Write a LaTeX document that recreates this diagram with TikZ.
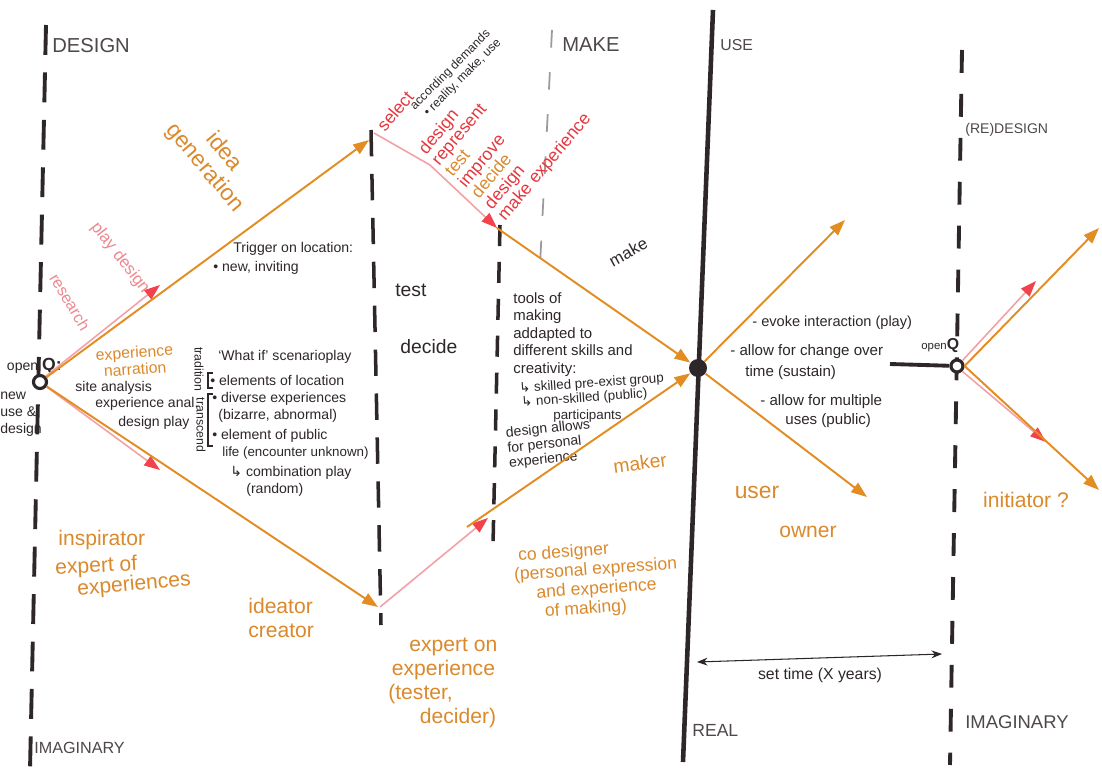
\documentclass[tikz,border=0pt]{standalone}
\usepackage{fontspec}
\setmainfont{Liberation Sans}
\newfontfamily\symfont{DejaVu Sans}
\usetikzlibrary{arrows.meta,positioning,calc}
\definecolor{inkc}{HTML}{2E2729}
\definecolor{headc}{HTML}{4E484A}
\definecolor{orng}{HTML}{E38C22}
\definecolor{orngt}{HTML}{DA8A2C}
\definecolor{pnk}{HTML}{F3A0A6}
\definecolor{pnkt}{HTML}{EE8890}
\definecolor{redh}{HTML}{F2434D}
\definecolor{redt}{HTML}{E6373F}

\begin{document}
\begin{tikzpicture}[
  x=0.02cm, y=-0.02cm,
  font=\fontsize{8}{9.6}\selectfont,
  ink/.style={text=inkc, align=left, inner sep=0pt, anchor=west},
  hd/.style={text=headc, inner sep=0pt, anchor=west},
  role/.style={text=orngt, font=\fontsize{12}{13.5}\selectfont, inner sep=0pt, align=left},
  redw/.style={text=redt, font=\fontsize{10}{9.8}\selectfont, inner sep=0pt, align=left},
  fan/.style={draw=orng, line width=1.1pt, -{Triangle[length=9pt,width=6.5pt]}},
  pfan/.style={draw=pnk, line width=0.9pt, -{Triangle[length=9pt,width=6.5pt,color=redh]}},
  bnd/.style={draw=inkc, line width=2.2pt, dash pattern=on 15pt off 10pt},
  openq/.style={circle, draw=inkc, fill=white, line width=1.8pt, minimum size=0.26cm, inner sep=0pt},
  hub/.style={circle, fill=inkc, minimum size=0.36cm, inner sep=0pt},
]
\newcommand{\hk}{{\symfont ↳}}
\useasboundingbox (0,0) rectangle (1102,770);
\fill[white] (0,0) rectangle (1102,770);

% ------------------------------------------------------------------ phase borders
\draw[bnd, dash pattern=on 17pt off 10pt] (46,25) -- (30,770);
\draw[bnd, line width=2pt] (371,130) -- (381,625);
\draw[bnd, line width=2pt, dash pattern=on 12pt off 9pt] (500,225) -- (493,545);
\draw[draw=headc!55, line width=1pt, dash pattern=on 10pt off 14pt] (552,30) -- (540,265);
\draw[draw=inkc, line width=2.6pt] (713,10) -- (683,762);
\draw[bnd, dash pattern=on 13pt off 12pt] (962,50) -- (950,765);

\node[hd, font=\fontsize{11.5}{12}\selectfont] (hdes) at (52,46) {DESIGN};
\node[hd, font=\fontsize{11.5}{12}\selectfont] (hmake) at (562,45) {MAKE};
\node[hd, font=\fontsize{9}{10}\selectfont] (huse) at (720,45) {USE};
\node[hd, font=\fontsize{8}{9}\selectfont] (hredes) at (965,130) {(RE)DESIGN};
\node[hd, font=\fontsize{9.2}{10}\selectfont] (himg) at (34,748) {IMAGINARY};
\node[hd, font=\fontsize{10}{11}\selectfont] (hreal) at (692,730) {REAL};
\node[hd, font=\fontsize{10.5}{11}\selectfont] (himg2) at (965,722) {IMAGINARY};

% ------------------------------------------------------------------ design: open question
\node[openq] (q1) at (40,382) {};
\node[ink, anchor=base east] (q1lab) at (62,370) {open \textbf{\fontsize{10}{10}\selectfont Q:}};
\node[ink, anchor=north west] (newuse) at (0,392) {new\\use \&\\design};

\coordinate (igtop) at (369,140);
\coordinate (pdtip) at (160,285);
\coordinate (igbot) at (378,607);
\coordinate (dptip) at (160,470);
\draw[pfan] (q1.north east) -- (pdtip);
\draw[fan] (q1) -- (igtop);
\draw[pfan] (q1) -- (dptip);
\draw[fan] (q1) -- (igbot);

\node[role, font=\fontsize{13}{14}\selectfont, align=center, rotate=-50] (idea) at (214,160) {idea\\generation};
\node[text=pnkt, font=\fontsize{9.5}{10}\selectfont, rotate=-52] (play) at (120,258) {play design};
\node[text=pnkt, font=\fontsize{9.2}{10}\selectfont, rotate=-59] (research) at (70,302) {research};
\node[role, font=\fontsize{9}{9.5}\selectfont, anchor=north west, rotate=4] (narr) at (95,349) {experience\\\hspace{4pt}narration};

\node[ink] (site) at (75,388) {site analysis};
\node[ink] (enal) at (95,404) {experience anal.};
\node[ink] (dplay) at (118,423) {design play};

\node[ink, font=\fontsize{7}{7}\selectfont, rotate=-90, anchor=center] (trad) at (199,369) {tradition};
\node[ink, font=\fontsize{7}{7}\selectfont, rotate=-90, anchor=center] (trans) at (201,425) {transcend};
\draw[inkc, line width=0.6pt] (213,373) -- (208,373) -- (208,388) -- (213,388);
\draw[inkc, line width=0.6pt] (213,394) -- (208,394) -- (208,446) -- (213,446);

\node[ink] (trig) at (233,249) {Trigger on location:};
\node[ink] (newinv) at (213,268) {• new, inviting};
\node[ink] (whatif) at (218,357) {`What if' scenarioplay};
\node[ink] (elloc) at (210,380) {• elements of location};
\node[ink] (divexp) at (212,399) {• diverse experiences};
\node[ink] (bizarre) at (218,416) {(bizarre, abnormal)};
\node[ink] (elpub) at (212,436) {• element of public};
\node[ink, font=\fontsize{7.6}{9}\selectfont] (life) at (222,453) {life (encounter unknown)};
\node[ink] (comb) at (230,473) {\hk\ combination play};
\node[ink] (rand) at (246,490) {(random)};

\node[role, anchor=west] (insp) at (58,540) {inspirator};
\node[role, anchor=west, rotate=3] (expof) at (55,569) {expert of};
\node[role, anchor=west, rotate=5] (expcs) at (77,590) {experiences};
\node[role, anchor=north west] (ideat) at (248,598) {ideator\\creator};

% ------------------------------------------------------------------ test and decide
\node[ink, font=\fontsize{11}{12}\selectfont] (test) at (395,290) {test};
\node[ink, font=\fontsize{11}{12}\selectfont] (decide) at (400,347) {decide};

\coordinate (seltop) at (374,133);
\coordinate (selkink) at (430,165);
\coordinate (mktop) at (497,228);
\coordinate (selbot) at (380,607);
\coordinate (mkbot) at (488,518);
\draw[pfan] (seltop) -- (selkink) -- (mktop);
\draw[pfan] (selbot) -- (mkbot);

\node[redw, rotate=50, anchor=base west] (select) at (385,133) {select};
\node[ink, font=\fontsize{7}{8}\selectfont, rotate=45, anchor=north west] (accord) at (408,104) {according demands\\\hspace{3pt}• reality, make, use};
\node[redw, rotate=50, anchor=north west] (steps) at (416,147)
  {design\\represent\\\textcolor{orngt}{test}\\improve\\\textcolor{orngt}{decide}\\design\\make experience};

\node[role, anchor=north west, align=left] (expon) at (388,638)
  {\hspace{12pt}expert on\\\hspace{2pt}experience\\(tester,\\\hspace{18pt}decider)};

% ------------------------------------------------------------------ make
\node[ink, font=\fontsize{9.5}{10}\selectfont, rotate=29] (make) at (610,262) {make};
\node[ink, font=\fontsize{8.5}{10}\selectfont, anchor=north west] (tools) at (513,292)
  {tools of\\making\\addapted to\\different skills and\\creativity:};
\node[ink, font=\fontsize{7.6}{9}\selectfont, rotate=4] (skilled) at (519,389) {\hk\ skilled pre-exist group};
\node[ink, font=\fontsize{7.6}{9}\selectfont, rotate=4] (nonsk) at (521,403) {\hk\ non-skilled (public)};
\node[ink, font=\fontsize{7.6}{9}\selectfont] (part) at (553,416) {participants};
\node[ink, font=\fontsize{8}{8.6}\selectfont, anchor=north west, rotate=6] (allows) at (505,427)
  {design allows\\for personal\\experience};

\node[hub] (use) at (698,368) {};
\coordinate (mkbots) at (467,527);
\draw[fan] (mktop) -- (use);
\draw[fan] (mkbots) -- (use);

\node[role, font=\fontsize{11}{12}\selectfont, rotate=8] (maker) at (640,463) {maker};
\node[role, font=\fontsize{10}{11}\selectfont, anchor=north west, rotate=4] (codes) at (512,548)
  {\hspace{3pt}co designer\\(personal expression\\\hspace{12pt}and experience\\\hspace{16pt}of making)};

% ------------------------------------------------------------------ use
\coordinate (up1) at (845,220);
\coordinate (dn1) at (867,497);
\draw[fan] (use) -- (up1);
\draw[fan] (use) -- (dn1);

\node[ink, font=\fontsize{8.3}{9}\selectfont] (evoke) at (752,323) {- evoke interaction (play)};
\node[ink, font=\fontsize{8.6}{9}\selectfont] (change) at (730,352) {- allow for change over};
\node[ink, font=\fontsize{8.6}{9}\selectfont] (sustain) at (745,373) {time (sustain)};
\node[ink, font=\fontsize{8.6}{9}\selectfont] (multi) at (760,402) {- allow for multiple};
\node[ink, font=\fontsize{8.6}{9}\selectfont] (uses) at (785,421) {uses (public)};

\node[role, font=\fontsize{13}{14}\selectfont] (user) at (757,492) {user};
\node[role] (owner) at (808,532) {owner};

\coordinate (yr1) at (697,662);
\coordinate (yr2) at (942,654);
\draw[inkc, line width=0.6pt, {Stealth[length=6pt]}-{Stealth[length=6pt]}] (yr1) -- (yr2);
\node[ink, font=\fontsize{9}{10}\selectfont, anchor=center] (settime) at (820,675) {set time (X years)};

% ------------------------------------------------------------------ (re)design
\node[openq, minimum size=0.24cm] (q2) at (957,366) {};
\coordinate (bar) at (890,364);
\draw[inkc, line width=2.2pt] (bar) -- (q2);
\node[ink, font=\fontsize{6.5}{7}\selectfont, anchor=base west] (q2lab) at (921,349) {open\textbf{\fontsize{9}{9}\selectfont Q}};

\coordinate (r1) at (1099,228);
\coordinate (r2) at (1036,281);
\coordinate (r3) at (1046,442);
\coordinate (r4) at (1099,490);
\draw[pfan] (q2.north east) -- (r2);
\draw[fan] (q2.east) -- (r1);
\draw[pfan] (q2.south east) -- (r3);
\draw[fan] (q2.east) -- (r4);

\node[role] (init) at (1026,500) {initiator ?};
\end{tikzpicture}
\end{document}
